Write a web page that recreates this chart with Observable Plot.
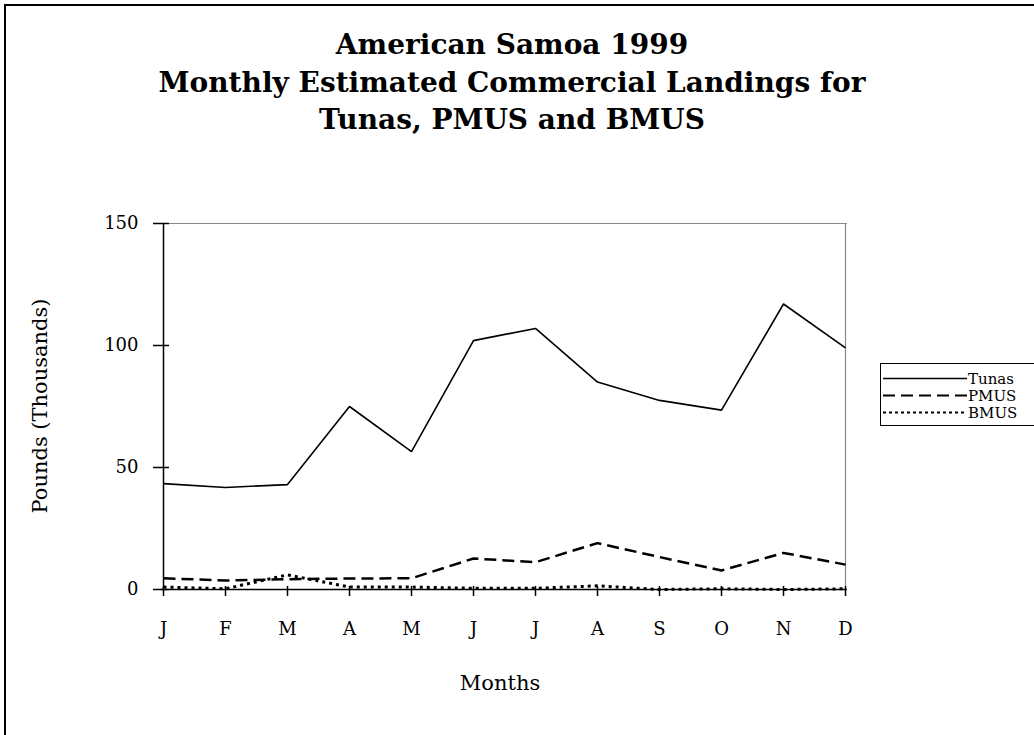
<!DOCTYPE html>
<html><head><meta charset="utf-8">
<script src="https://cdn.jsdelivr.net/npm/d3@7"></script>
<script src="https://cdn.jsdelivr.net/npm/@observablehq/plot@0.6"></script>
<style>
body{margin:0;background:#fff;}
#wrap{position:relative;width:1034px;height:735px;overflow:hidden;background:#fff;}
#border{position:absolute;left:4px;top:4px;width:1200px;height:900px;border-left:2px solid #000;border-top:2px solid #000;}
#title{position:absolute;left:0;width:1024px;top:26px;text-align:center;font:bold 28px "DejaVu Serif";line-height:37.5px;color:#000;}
#chart{position:absolute;left:0;top:0;}
#ylab{position:absolute;left:40px;top:406px;transform:translate(-50%,-50%) rotate(-90deg);font:21px "DejaVu Serif";white-space:nowrap;}
#xlab{position:absolute;left:500px;top:683px;transform:translate(-50%,-50%);font:21px "DejaVu Serif";white-space:nowrap;}
#legend{position:absolute;left:880px;top:363px;width:200px;height:61px;border:1px solid #000;background:#fff;}
.row{position:absolute;left:0;height:17px;display:flex;align-items:center;font:15px "DejaVu Serif";}
.row svg{display:block;}
</style></head>
<body>
<div id="wrap">
  <div id="border"></div>
  <div id="title">American Samoa 1999<br>Monthly Estimated Commercial Landings for<br>Tunas, PMUS and BMUS</div>
  <div id="chart"></div>
  <div id="ylab">Pounds (Thousands)</div>
  <div id="xlab">Months</div>
  <div id="legend"></div>
</div>
<script>
const months = ["J","F","M","A","M","J","J","A","S","O","N","D"];
const tunas = [43.4, 41.8, 43, 75, 56.5, 102, 107, 85, 77.5, 73.5, 117, 99];
const pmus  = [4.6, 3.7, 4.2, 4.5, 4.6, 12.7, 11.2, 19, 13.3, 7.8, 15, 10.2];
const bmus  = [1, 0.3, 6, 1, 1, 0.5, 0.5, 1.5, 0, 0.3, 0, 0.3];
const yTicks = [0, 50, 100, 150];
const seriesNames = ["Tunas", "PMUS", "BMUS"];

const styles = {
  Tunas: {strokeWidth: 1.6, dash: null},
  PMUS:  {strokeWidth: 2.5, dash: "12,6"},
  BMUS:  {strokeWidth: 3,   dash: "3,4"}
};

const idx = d3.range(months.length);
const rows = [];
[tunas, pmus, bmus].forEach((arr, s) => arr.forEach((v, i) => rows.push({series: seriesNames[s], i, v})));

const plot = Plot.plot({
  width: 1034,
  height: 735,
  marginLeft: 161,
  marginRight: 1034 - 847,
  marginTop: 223,
  marginBottom: 735 - 589,
  style: {fontFamily: "DejaVu Serif", fontSize: "18px", background: "transparent", color: "#000"},
  x: {type: "point", domain: idx, padding: 0, axis: null},
  y: {domain: [0, 150], axis: null},
  marks: [
    Plot.ruleY([150], {stroke: "#888", strokeWidth: 1.2}),
    Plot.ruleX([idx[idx.length - 1]], {stroke: "#888", strokeWidth: 1.2}),
    ...seriesNames.map(name => Plot.line(rows.filter(r => r.series === name), {
      x: "i", y: "v", stroke: "#000",
      strokeWidth: styles[name].strokeWidth,
      strokeDasharray: styles[name].dash,
      strokeLinecap: "butt", strokeLinejoin: "miter"
    })),
    Plot.ruleY([0], {stroke: "#000", strokeWidth: 1.5}),
    Plot.ruleX([0], {stroke: "#000", strokeWidth: 1.5}),
    Plot.axisY({ticks: yTicks, tickSize: 16, dx: 8, tickFormat: () => "", label: null, stroke: "#000", strokeWidth: 1.5}),
    Plot.axisY({ticks: yTicks, tickSize: 0, tickPadding: 23, label: null, fontSize: 18}),
    Plot.axisX({ticks: idx, tickSize: 10, dy: -3, tickFormat: () => "", label: null, stroke: "#000", strokeWidth: 1.5}),
    Plot.axisX({ticks: idx, tickSize: 0, tickPadding: 33, tickFormat: i => months[i], label: null, fontSize: 18})
  ]
});
document.getElementById("chart").appendChild(plot);

// legend
const legend = document.getElementById("legend");
seriesNames.forEach((name, k) => {
  const row = document.createElement("div");
  row.className = "row";
  row.style.top = (6 + k * 17) + "px";
  const ns = "http://www.w3.org/2000/svg";
  const svg = document.createElementNS(ns, "svg");
  svg.setAttribute("width", 87); svg.setAttribute("height", 17);
  const ln = document.createElementNS(ns, "line");
  ln.setAttribute("x1", 2); ln.setAttribute("x2", 86);
  ln.setAttribute("y1", 8.5); ln.setAttribute("y2", 8.5);
  ln.setAttribute("stroke", "#000");
  ln.setAttribute("stroke-width", k === 0 ? 1.5 : 2);
  if (styles[name].dash) ln.setAttribute("stroke-dasharray", k === 1 ? "12,6" : "3,3");
  svg.appendChild(ln);
  row.appendChild(svg);
  const t = document.createElement("span");
  t.textContent = name;
  row.appendChild(t);
  legend.appendChild(row);
});
</script>
</body></html>
